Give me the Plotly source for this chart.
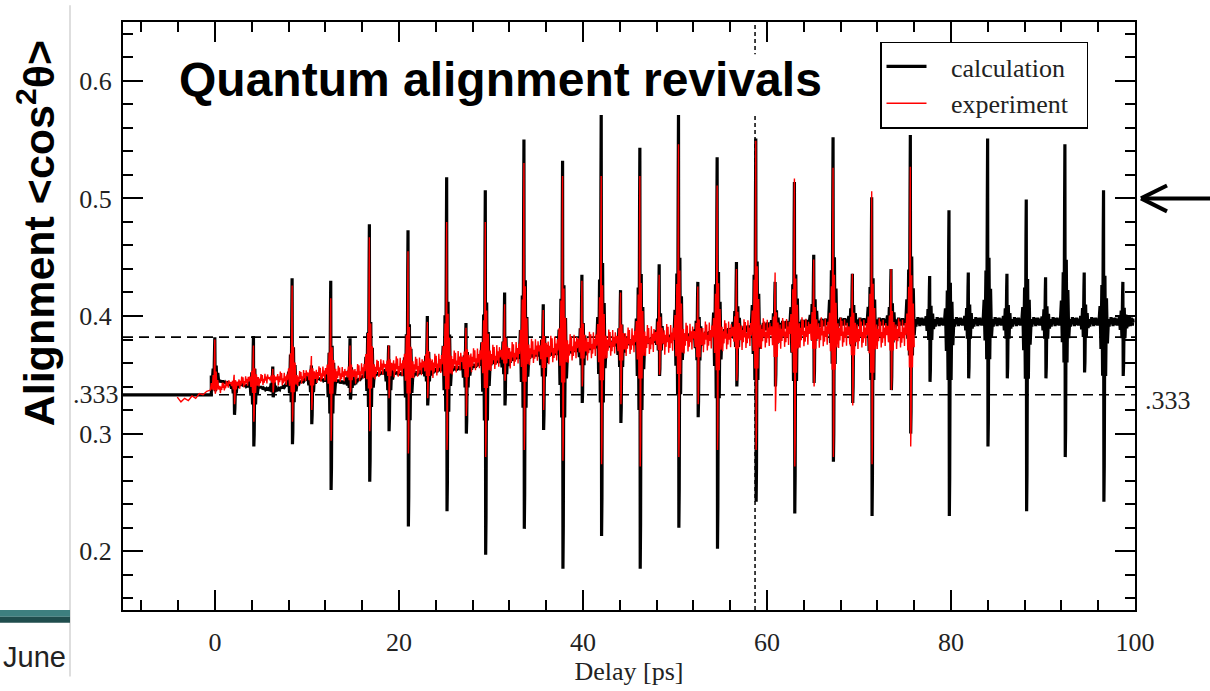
import plotly.graph_objects as go

# ---------------- data ----------------
# revival (half / quarter) times in ps
revival_t = [0.0, 2.1, 4.2, 6.3, 8.4, 10.5, 12.6, 14.7, 16.8, 18.9, 21.0, 23.1,
             25.2, 27.3, 29.4, 31.5, 33.6, 35.7, 37.8, 39.9, 42.0, 44.1, 46.2, 48.3,
             50.4, 52.5, 54.6, 56.7, 58.8, 60.9, 63.0, 65.1, 67.2, 69.3, 71.4, 73.5,
             75.6, 77.7, 79.8, 81.9, 84.0, 86.1, 88.2, 90.3, 92.4, 94.5, 96.6, 98.7]

# calculation (black)
calc_peak = [0.382, 0.343, 0.383, 0.357, 0.432, 0.358, 0.430, 0.381, 0.478, 0.375,
             0.473, 0.400, 0.518, 0.394, 0.507, 0.420, 0.550, 0.410, 0.532, 0.435,
             0.575, 0.422, 0.543, 0.444, 0.575, 0.429, 0.535, 0.446, 0.551, 0.429,
             0.514, 0.452, 0.552, 0.436, 0.501, 0.440, 0.554, 0.434, 0.490, 0.437,
             0.551, 0.436, 0.499, 0.433, 0.546, 0.437, 0.507, 0.429]
calc_dip = [0.336, 0.316, 0.289, 0.331, 0.291, 0.308, 0.252, 0.329, 0.259, 0.302,
            0.221, 0.324, 0.234, 0.300, 0.197, 0.324, 0.219, 0.303, 0.185, 0.326,
            0.213, 0.309, 0.185, 0.349, 0.220, 0.314, 0.202, 0.340, 0.242, 0.340,
            0.232, 0.343, 0.276, 0.326, 0.230, 0.337, 0.300, 0.344, 0.230, 0.347,
            0.289, 0.347, 0.234, 0.347, 0.280, 0.352, 0.242, 0.349]
calc_base = [0.345, 0.342, 0.340, 0.337, 0.342, 0.347, 0.345, 0.343, 0.350, 0.352,
             0.350, 0.353, 0.355, 0.356, 0.360, 0.362, 0.366, 0.368, 0.369, 0.372,
             0.375, 0.377, 0.378, 0.380, 0.382, 0.383, 0.385, 0.388, 0.390, 0.392,
             0.393, 0.394, 0.395, 0.395, 0.395, 0.395, 0.395, 0.395, 0.395, 0.395,
             0.395, 0.395, 0.395, 0.395, 0.395, 0.395, 0.395, 0.395]
calc_ripple = [0.001, 0.001, 0.001, 0.001, 0.001, 0.001, 0.0015, 0.0015, 0.0015, 0.0015,
               0.002, 0.002, 0.002, 0.002, 0.002, 0.002, 0.0025, 0.0025, 0.0025, 0.0025,
               0.003, 0.003, 0.003, 0.003, 0.003, 0.003, 0.003, 0.003, 0.0035, 0.0035,
               0.0035, 0.0035, 0.0035, 0.0035, 0.0035, 0.0035, 0.004, 0.004, 0.004, 0.004,
               0.004, 0.004, 0.004, 0.004, 0.004, 0.004, 0.004, 0.004]
calc_pre_t = [-10.0, -0.4]
calc_pre_y = [0.333, 0.333]

# experiment (red), measured up to ~76 ps
exp_peak = [0.380, 0.350, 0.375, 0.355, 0.426, 0.366, 0.415, 0.375, 0.467, 0.375,
            0.455, 0.395, 0.480, 0.390, 0.480, 0.410, 0.530, 0.405, 0.519, 0.430,
            0.519, 0.420, 0.519, 0.435, 0.546, 0.425, 0.511, 0.440, 0.549, 0.437,
            0.517, 0.448, 0.526, 0.436, 0.506, 0.440, 0.527]
exp_dip = [0.334, 0.325, 0.310, 0.335, 0.310, 0.320, 0.294, 0.335, 0.302, 0.330,
           0.283, 0.330, 0.286, 0.315, 0.280, 0.345, 0.286, 0.320, 0.277, 0.340,
           0.274, 0.325, 0.272, 0.350, 0.280, 0.325, 0.286, 0.345, 0.286, 0.319,
           0.272, 0.340, 0.280, 0.324, 0.274, 0.337, 0.289]
exp_base = [0.338, 0.343, 0.345, 0.347, 0.346, 0.350, 0.351, 0.350, 0.354, 0.357,
            0.356, 0.357, 0.360, 0.362, 0.364, 0.366, 0.369, 0.371, 0.372, 0.374,
            0.376, 0.378, 0.379, 0.380, 0.381, 0.382, 0.383, 0.384, 0.385, 0.385,
            0.386, 0.386, 0.386, 0.385, 0.385, 0.385, 0.385]
exp_noise = [0.004, 0.005, 0.005, 0.006, 0.006, 0.007, 0.007, 0.008, 0.008, 0.009,
             0.009, 0.010, 0.010, 0.010, 0.011, 0.011, 0.011, 0.012, 0.012, 0.012,
             0.012, 0.012, 0.013, 0.013, 0.013, 0.013, 0.013, 0.013, 0.013, 0.013,
             0.013, 0.013, 0.013, 0.013, 0.013, 0.013, 0.013]
exp_pre_t = [-4.1, -3.7, -3.3, -2.9, -2.5, -2.1, -1.7, -1.3, -0.9, -0.5]
exp_pre_y = [0.331, 0.327, 0.330, 0.328, 0.332, 0.330, 0.334, 0.333, 0.336, 0.337]

x_range = [-10, 100]
y_range = [0.15, 0.65]
x_end_calc = 100.3

# ---------------- drawing templates (style) ----------------
spike_dt = [-0.40, -0.30, -0.20, -0.12, -0.05, -0.02, 0.02, 0.06, 0.13, 0.21, 0.30, 0.40]
spike_f = [0.12, -0.15, 0.28, -0.30, 0.7, 1.0, -1.0, -0.8, 0.35, -0.30, 0.18, -0.12]
ripple_shape = [0.6, -1.0, 0.3, -0.5, 1.0, -0.2, 0.8, -0.9, 0.1, -0.6, 0.9, -0.3,
                0.4, -0.8, 0.7, -0.1]


def build(times, peaks, dips, bases, ripples, end_t, pre_t, pre_y):
    xs, ys = list(pre_t), list(pre_y)
    n = len(peaks)
    for j in range(n):
        t, b = times[j], bases[j]
        for dt, f in zip(spike_dt, spike_f):
            xs.append(t + dt)
            ys.append(b + f * (peaks[j] - b) if f > 0 else b + f * (b - dips[j]))
        if j + 1 < n:
            nxt, nb = times[j + 1], bases[j + 1]
        elif end_t is not None:
            nxt, nb = end_t, b
        else:
            continue
        start, stop = t + 0.48, nxt - 0.48
        m = len(ripple_shape)
        for i, p in enumerate(ripple_shape):
            u = (i + 0.5) / m
            xs.append(start + u * (stop - start))
            ys.append(b + u * (nb - b) + p * ripples[j])
    return xs, ys


cx, cy = build(revival_t, calc_peak, calc_dip, calc_base, calc_ripple,
               x_end_calc, calc_pre_t, calc_pre_y)
ex, ey = build(revival_t, exp_peak, exp_dip, exp_base, exp_noise,
               None, exp_pre_t, exp_pre_y)

nb = "\u00a0"
fig = go.Figure()
fig.add_trace(go.Scatter(x=cx, y=cy, mode="lines", name=nb * 3 + "calculation" + nb * 2,
                         line=dict(color="black", width=3.2)))
fig.add_trace(go.Scatter(x=ex, y=ey, mode="lines", name=nb * 3 + "experiment" + nb * 2,
                         line=dict(color="#ff0000", width=1.4)))

serif = "Liberation Serif, Times New Roman, serif"
sans = "Liberation Sans, Arial, sans-serif"

L, R, T, B = 123, 75, 22, 68
W, H = 1210, 691
pw, ph = W - L - R, H - T - B


def px(xpix):
    return (xpix - L) / pw


def py(ypix):
    return 1 - (ypix - T) / ph


axis_common = dict(showgrid=False, zeroline=False, showline=True, linecolor="black",
                   linewidth=2, mirror="ticks", ticks="inside", ticklen=20,
                   tickwidth=1.8, tickcolor="black",
                   tickfont=dict(family=serif, size=26, color="#222"))

fig.update_layout(
    width=W, height=H,
    margin=dict(l=L, r=R, t=T, b=B),
    paper_bgcolor="white", plot_bgcolor="white",
    xaxis=dict(range=x_range, tickmode="linear", tick0=0, dtick=20,
               minor=dict(tickmode="linear", tick0=0, dtick=4, ticks="inside",
                          ticklen=10, tickwidth=1.8, tickcolor="black"),
               ticklabelstandoff=8,
               title=dict(text="Delay [ps]", font=dict(family=serif, size=26, color="#222"),
                          standoff=4),
               **axis_common),
    yaxis=dict(range=y_range, tickmode="linear", tick0=0.2, dtick=0.1, tickformat=".1f",
               minor=dict(tickmode="linear", tick0=0.2, dtick=0.02, ticks="inside",
                          ticklen=10, tickwidth=1.8, tickcolor="black"),
               ticklabelstandoff=4,
               **axis_common),
    showlegend=True,
    legend=dict(x=px(880), y=py(42), xanchor="left", yanchor="top",
                bordercolor="black", borderwidth=1.5, bgcolor="white",
                font=dict(family=serif, size=26, color="#222"),
                itemwidth=40, tracegroupgap=0),
)

shapes = [
    dict(type="line", xref="x", yref="y", x0=x_range[0], x1=x_range[1], y0=0.333, y1=0.333,
         line=dict(color="black", width=1.6, dash="10px,6px"), layer="below"),
    dict(type="line", xref="x", yref="y", x0=x_range[0], x1=x_range[1], y0=0.382, y1=0.382,
         line=dict(color="black", width=1.6, dash="10px,6px"), layer="below"),
    dict(type="line", xref="x", yref="y", x0=58.7, x1=58.7, y0=y_range[0], y1=y_range[1],
         line=dict(color="black", width=1.5, dash="4px,3px"), layer="below"),
    # white text box behind the slide title
    dict(type="rect", xref="paper", yref="paper", x0=px(175), x1=px(826), y0=py(117), y1=py(55),
         fillcolor="white", line=dict(width=0), layer="above"),
    # slide remnants on the left
    dict(type="line", xref="paper", yref="paper", x0=px(70), x1=px(70), y0=py(691), y1=py(5),
         line=dict(color="#c8c8c8", width=1.2)),
    dict(type="rect", xref="paper", yref="paper", x0=px(-2), x1=px(70), y0=py(630), y1=py(623),
         fillcolor="#3d7f7f", line=dict(width=0)),
    dict(type="rect", xref="paper", yref="paper", x0=px(-2), x1=px(70), y0=py(636), y1=py(630),
         fillcolor="#1f4d4d", line=dict(width=0)),
    # arrow pointing at 0.5 on the right
    dict(type="line", xref="paper", yref="y", x0=px(1210), x1=px(1142), y0=0.5, y1=0.5,
         line=dict(color="black", width=4)),
    dict(type="line", xref="paper", yref="y", x0=px(1141), x1=px(1167), y0=0.5, y1=0.5 + 0.011,
         line=dict(color="black", width=4)),
    dict(type="line", xref="paper", yref="y", x0=px(1141), x1=px(1167), y0=0.5, y1=0.5 - 0.011,
         line=dict(color="black", width=4)),
]
fig.update_layout(shapes=shapes)

annotations = [
    dict(text="<b>Quantum alignment revivals</b>", xref="paper", yref="paper",
         x=px(500), y=py(81), xanchor="center", yanchor="middle", showarrow=False,
         font=dict(family=sans, size=48, color="black")),
    dict(text="<b>Alignment &lt;cos<sup>2</sup>θ&gt;</b>", xref="paper", yref="paper",
         x=px(36), y=py(238), xanchor="center", yanchor="middle", textangle=-90,
         showarrow=False, font=dict(family=sans, size=43, color="black")),
    dict(text=".333", xref="paper", yref="y", x=px(121), y=0.333, xanchor="right",
         yanchor="middle", showarrow=False, font=dict(family=serif, size=26, color="#222")),
    dict(text=".333", xref="paper", yref="y", x=px(1143), y=0.328, xanchor="left",
         yanchor="middle", showarrow=False, font=dict(family=serif, size=26, color="#222")),
    dict(text="June", xref="paper", yref="paper", x=px(1), y=py(671), xanchor="left",
         yanchor="middle", showarrow=False, font=dict(family=sans, size=29, color="#222")),
]
fig.update_layout(annotations=annotations)

fig.write_html("out.html", config={"displayModeBar": False},
               post_script="document.body.style.margin='0';document.body.style.overflow='hidden';")
